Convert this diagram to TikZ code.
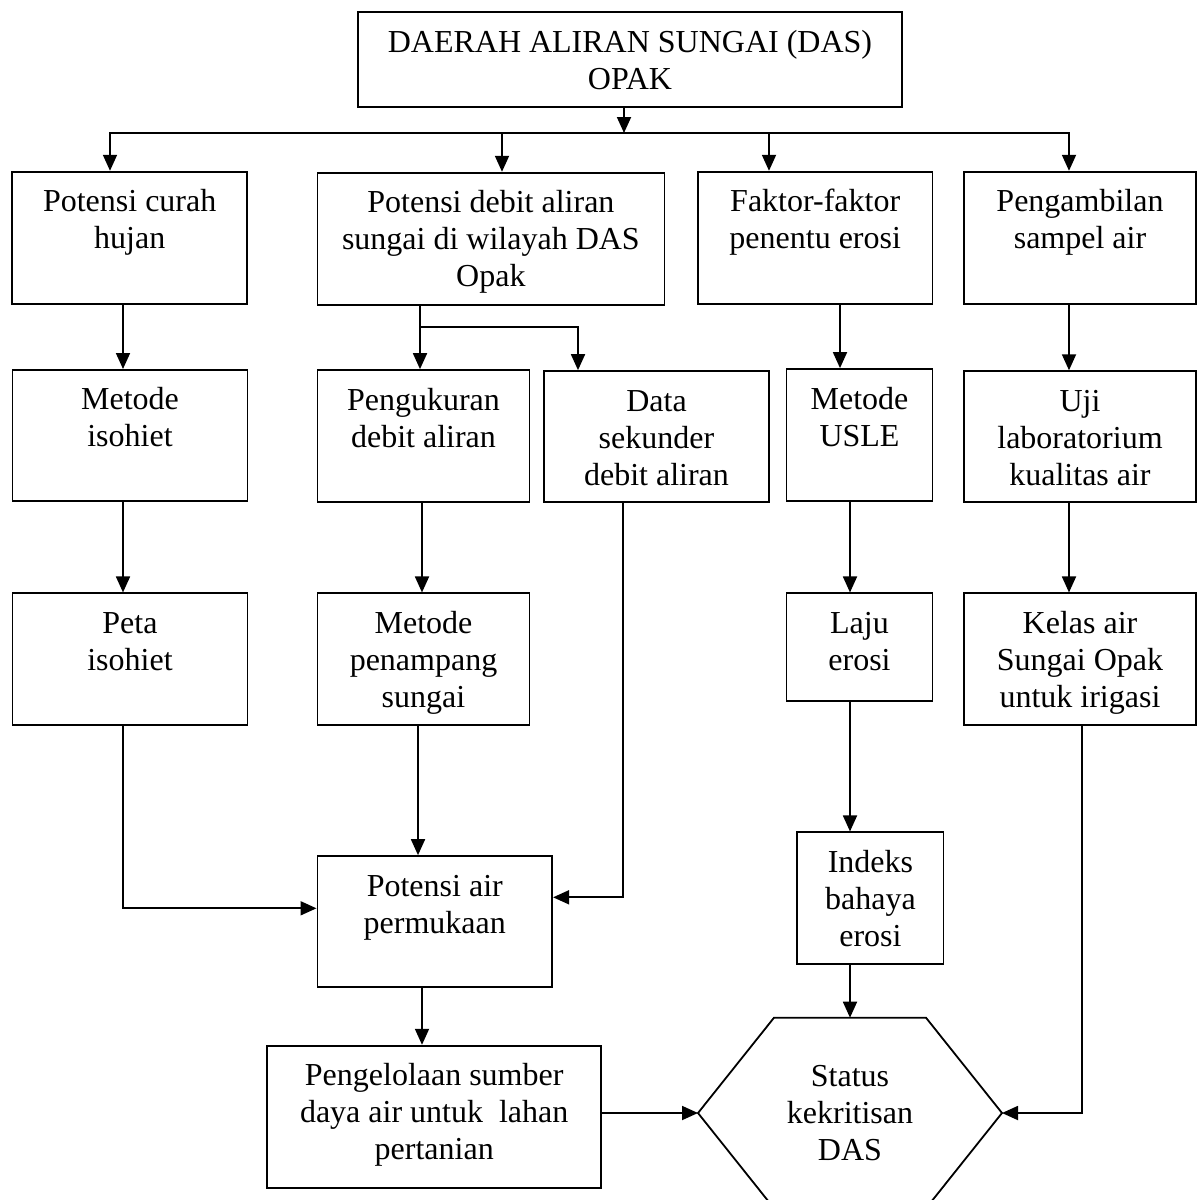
\documentclass[tikz,border=0pt]{standalone}
\usepackage{fontspec}
\setmainfont{Liberation Serif}
\usetikzlibrary{arrows.meta}
\newcommand{\boxtxt}[4][40pt]{\parbox[c][#3][t]{#2}{\centering\rule{0pt}{#1}#4}}
\begin{document}
\begin{tikzpicture}[x=1pt,y=-1pt,
  line width=1.8pt,
  every node/.style={font=\fontsize{32}{37}\selectfont},
  box/.style={draw,inner sep=0pt},
  arr/.style={-{Triangle[length=16pt,width=14pt]}}]
\useasboundingbox (0,0) rectangle (1197,1200);
\clip (0,0) rectangle (1197,1200);

% boxes
\node[box] (top) at (630,59.5) {\boxtxt{544pt}{95pt}{DAERAH ALIRAN SUNGAI (DAS)\\OPAK}};
\node[box] (b1) at (129.7,237.7) {\boxtxt{235pt}{132pt}{Potensi curah\\hujan}};
\node[box] (b2) at (490.9,238.7) {\boxtxt{347pt}{132pt}{Potensi debit aliran\\sungai di wilayah DAS\\Opak}};
\node[box] (b3) at (815.2,237.7) {\boxtxt{234.5pt}{132pt}{Faktor-faktor\\penentu erosi}};
\node[box] (b4) at (1080,237.7) {\boxtxt{232pt}{132pt}{Pengambilan\\sampel air}};

\node[box] (r2a) at (130,435.4) {\boxtxt{235pt}{131pt}{Metode\\isohiet}};
\node[box] (r2b) at (423.5,435.9) {\boxtxt{212pt}{131.7pt}{Pengukuran\\debit aliran}};
\node[box] (r2c) at (656.5,436.4) {\boxtxt{224.5pt}{130.7pt}{Data\\sekunder\\debit aliran}};
\node[box] (r2d) at (859.5,435) {\boxtxt{146pt}{132pt}{Metode\\USLE}};
\node[box] (r2e) at (1080,436.7) {\boxtxt{232pt}{131pt}{Uji\\laboratorium\\kualitas air}};

\node[box] (r3a) at (130,659.2) {\boxtxt{235pt}{131.7pt}{Peta\\isohiet}};
\node[box] (r3b) at (423.5,659.2) {\boxtxt{212pt}{131.7pt}{Metode\\penampang\\sungai}};
\node[box] (r3d) at (859.5,647.2) {\boxtxt{146pt}{107.7pt}{Laju\\erosi}};
\node[box] (r3e) at (1080,659.2) {\boxtxt{232pt}{131.7pt}{Kelas air\\Sungai Opak\\untuk irigasi}};

\node[box] (pa) at (434.8,921.7) {\boxtxt{234.8pt}{131.3pt}{Potensi air\\permukaan}};
\node[box] (ix) at (870.4,898.2) {\boxtxt{146.2pt}{131.7pt}{Indeks\\bahaya\\erosi}};
\node[box] (pg) at (434.2,1116.7) {\boxtxt{334.3pt}{142pt}{Pengelolaan sumber\\daya air untuk~ lahan\\pertanian}};

% hexagon
\coordinate (hexT) at (850,1017.7);
\coordinate (hexTL) at (774,1017.7);
\coordinate (hexTR) at (926,1017.7);
\coordinate (hexR) at (1002,1113);
\coordinate (hexBR) at (926,1208.3);
\coordinate (hexBL) at (774,1208.3);
\coordinate (hexL) at (698,1113);
\draw (hexTL) -- (hexTR) -- (hexR) -- (hexBR) -- (hexBL) -- (hexL) -- cycle;
\node[inner sep=0pt,anchor=north] (hext) at (hexT) {\boxtxt[68pt]{250pt}{150pt}{Status\\kekritisan\\DAS}};

% helper coordinates
\coordinate (busL) at (110,133);
\coordinate (busR) at (1069,133);
\coordinate (d2) at (502,133);
\coordinate (d3) at (769,133);
\coordinate (xtop) at (624,0);
\coordinate (xa) at (123,0);
\coordinate (ya) at (0,908.3);
\coordinate (xb) at (420,0);
\coordinate (yb) at (0,326.7);
\coordinate (xc) at (578,0);
\coordinate (xb2) at (422,0);
\coordinate (xb3) at (418,0);
\coordinate (xd) at (623,0);
\coordinate (yd) at (0,897.3);
\coordinate (xe1) at (840,0);
\coordinate (xe) at (850,0);
\coordinate (xf) at (1069,0);
\coordinate (xg) at (1081.7,0);

% top distribution
\draw[arr] (top.south -| xtop) -- (xtop |- busL);
\draw[arr] (d2) -- (busL) -- (busL |- b1.north);
\draw[arr] (d2) -- (busR) -- (busR |- b4.north);
\draw[arr] (d2) -- (d2 |- b2.north);
\draw[arr] (d3) -- (d3 |- b3.north);

% column 1
\draw[arr] (b1.south -| xa) -- (r2a.north -| xa);
\draw[arr] (r2a.south -| xa) -- (r3a.north -| xa);
\draw[arr] (r3a.south -| xa) |- (pa.west |- ya);

% column 2
\draw[arr] (b2.south -| xb) -- (r2b.north -| xb);
\draw[arr] (b2.south -| xb) |- (xc |- yb) -- (r2c.north -| xc);
\draw[arr] (r2b.south -| xb2) -- (r3b.north -| xb2);
\draw[arr] (r3b.south -| xb3) -- (pa.north -| xb3);
\draw[arr] (r2c.south -| xd) |- (pa.east |- yd);
\draw[arr] (pa.south -| xb2) -- (pg.north -| xb2);

% column 3
\draw[arr] (b3.south -| xe1) -- (r2d.north -| xe1);
\draw[arr] (r2d.south -| xe) -- (r3d.north -| xe);
\draw[arr] (r3d.south -| xe) -- (ix.north -| xe);
\draw[arr] (ix.south -| xe) -- (hexT);

% column 4
\draw[arr] (b4.south -| xf) -- (r2e.north -| xf);
\draw[arr] (r2e.south -| xf) -- (r3e.north -| xf);
\draw[arr] (r3e.south -| xg) |- (hexR);

% into hexagon from left
\draw[arr] (pg.east |- hexL) -- (hexL);
\end{tikzpicture}
\end{document}
